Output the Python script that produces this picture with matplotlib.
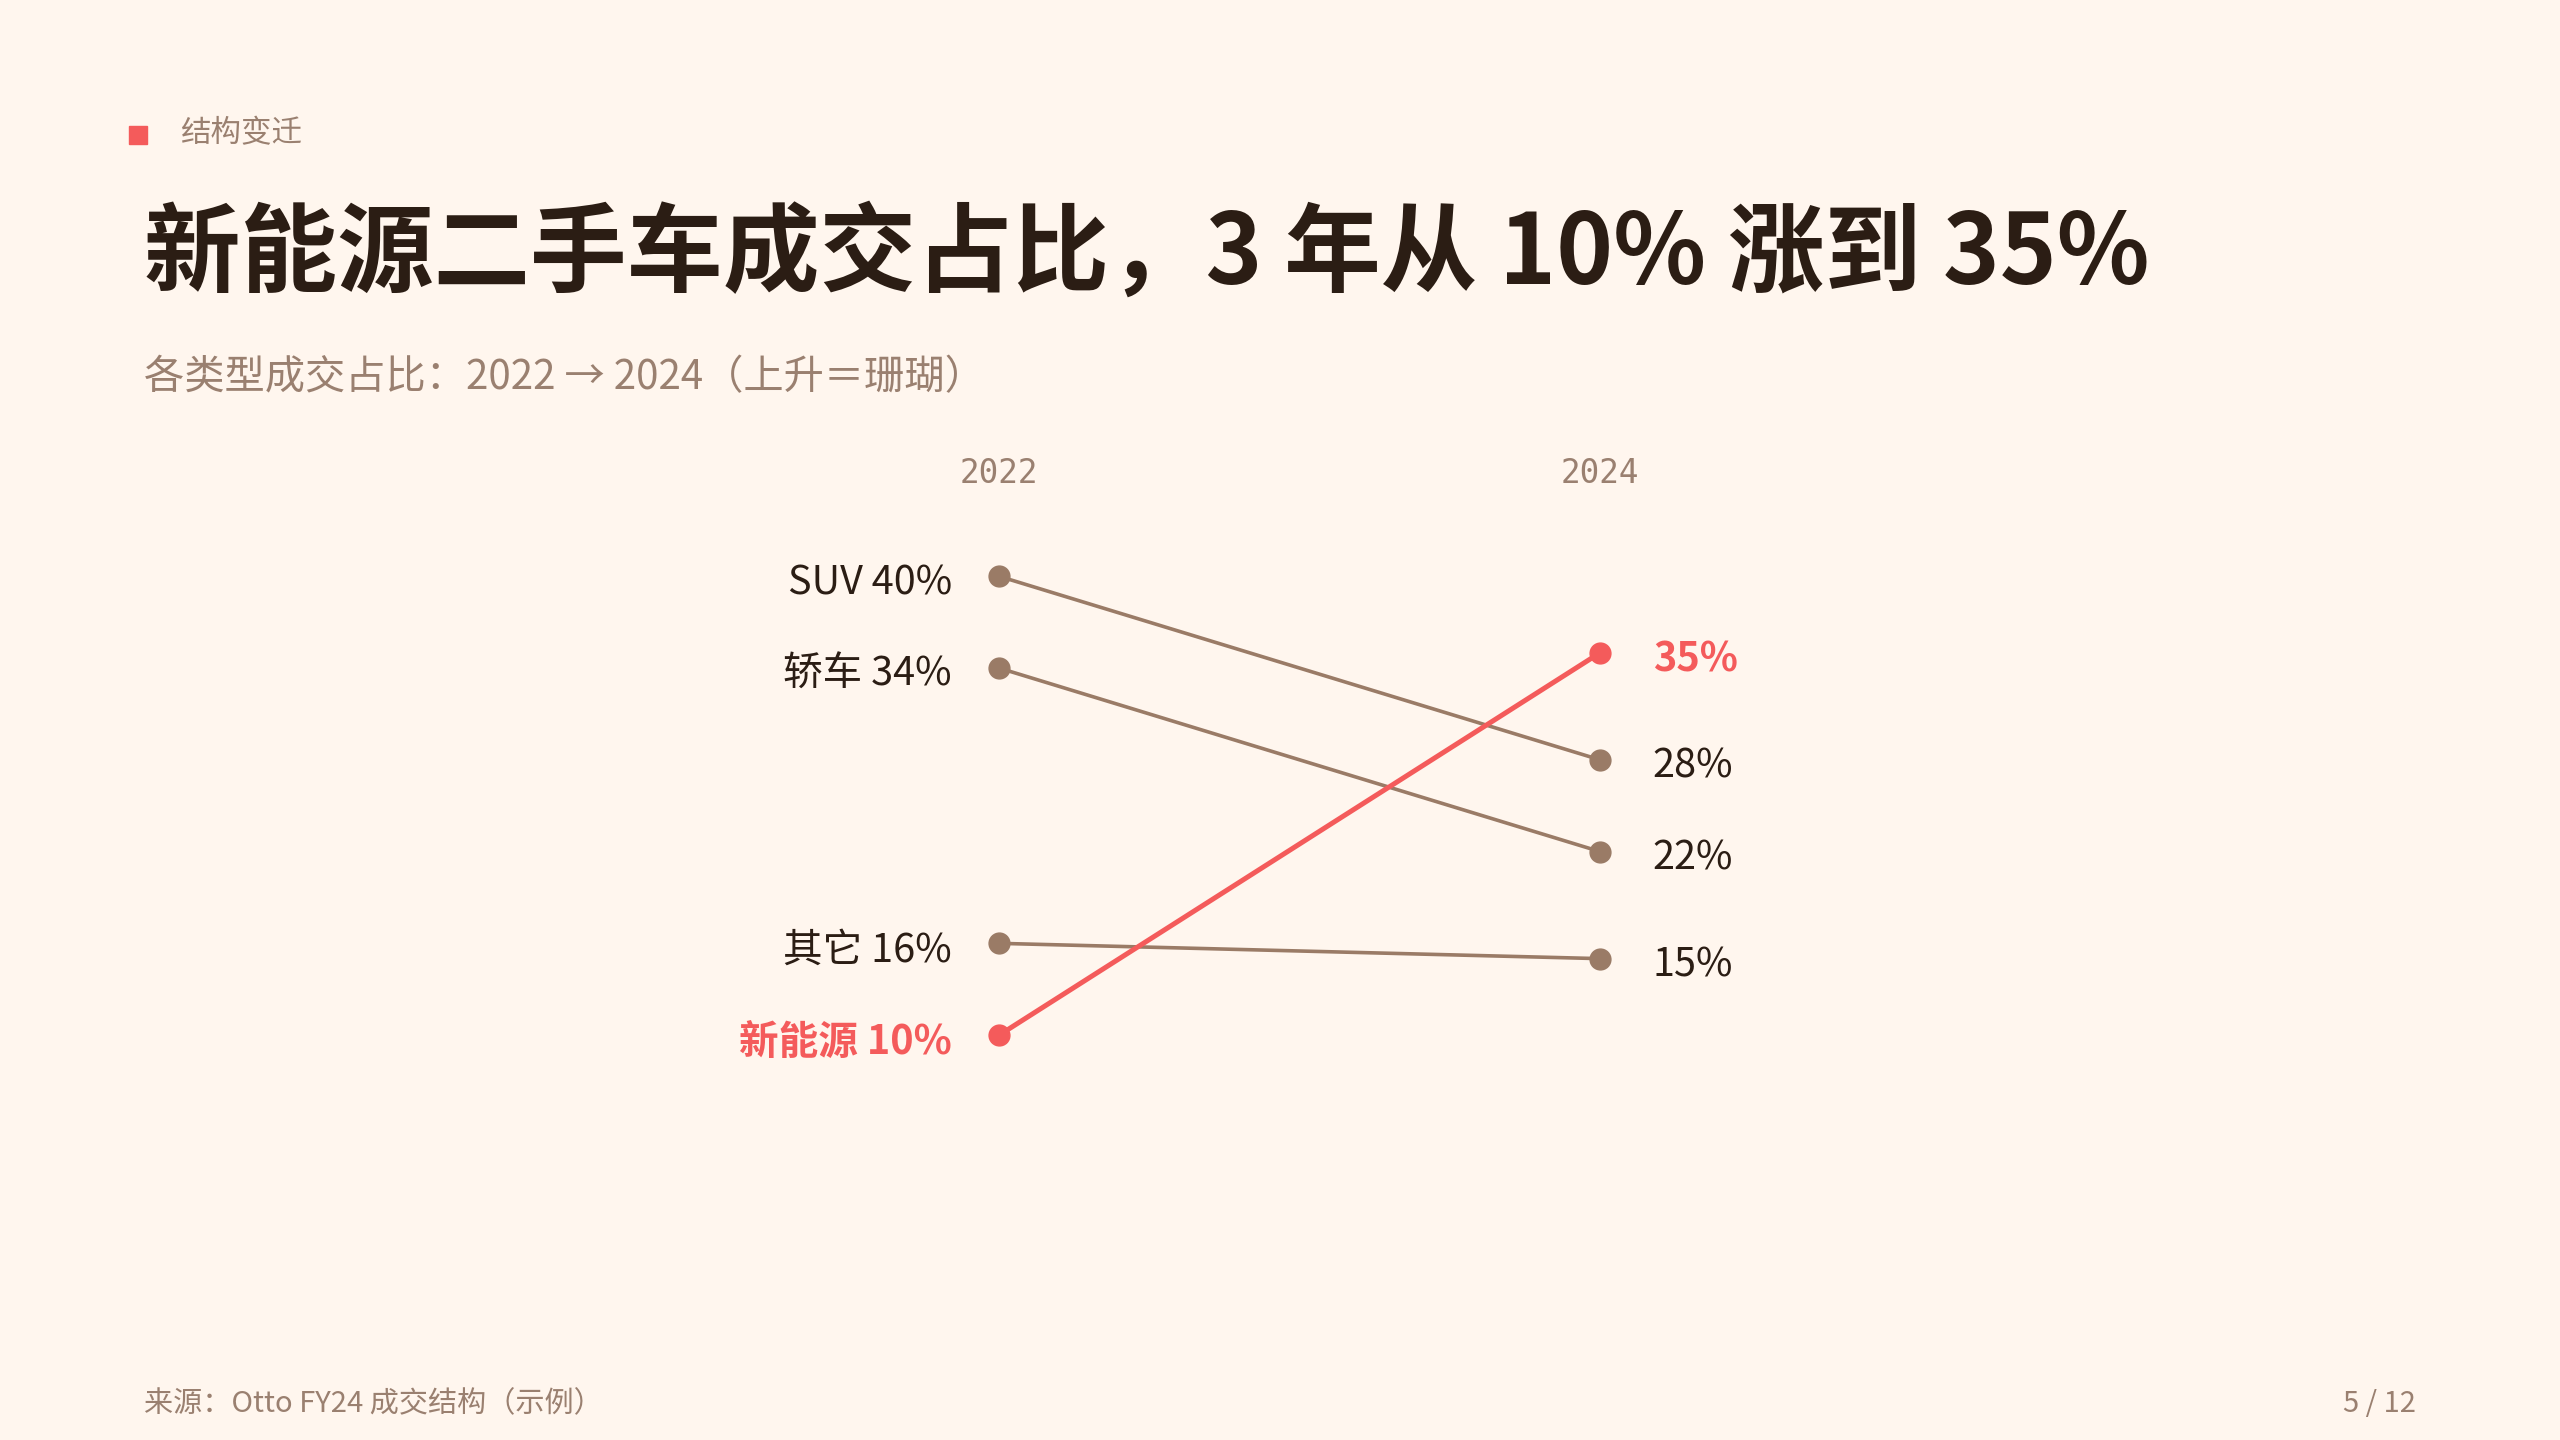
import matplotlib
matplotlib.use("Agg")
import matplotlib.pyplot as plt

plt.rcParams['font.family'] = ['Noto Sans CJK SC', 'DejaVu Sans']

categories = ["SUV", "轿车", "其它", "新能源"]
v2022 = [40, 34, 16, 10]
v2024 = [28, 22, 15, 35]
years = ["2022", "2024"]
highlight = "新能源"

BG = "#FFF6EE"
BROWN = "#9A7B66"
CORAL = "#F45B5B"
DARK = "#2B1D14"
MUTED = "#9A8070"

fig = plt.figure(figsize=(25.6, 14.4), dpi=100, facecolor=BG)
ax = fig.add_axes([612/1568, 1-634/882, (980-612)/1568, (634-353)/882])
ax.set_facecolor("none")
ax.set_xlim(0, 1)
ax.set_ylim(10, 40)
ax.axis("off")

for cat, a, b in zip(categories, v2022, v2024):
    hi = cat == highlight
    c = CORAL if hi else BROWN
    ax.plot([0, 1], [a, b], color=c, lw=3.6 if hi else 2.6, marker="o", ms=15,
            clip_on=False, zorder=3 if hi else 2, solid_capstyle="round")
    ax.annotate(f"{cat} {a}%", (0, a), xytext=(-34, -5), textcoords="offset points",
                ha="right", va="center", fontsize=28.5, color=c if hi else DARK,
                fontweight="bold" if hi else "normal")
    ax.annotate(f"{b}%", (1, b), xytext=(38, -5), textcoords="offset points",
                ha="left", va="center", fontsize=28.5, color=c if hi else DARK,
                fontweight="bold" if hi else "normal")

for i, y in enumerate(years):
    xf = (612 + i*(980-612)) / 1568
    fig.text(xf, 1-290/882, y, ha="center", va="center", fontsize=23.5,
             color=MUTED, family="DejaVu Sans Mono")

fig.patches.append(plt.Rectangle((79/1568, 1-88/882), 11/1568, 11/882,
                                 transform=fig.transFigure, color=CORAL))
fig.text(110/1568, 1-82/882, "结构变迁", fontsize=22, color=MUTED, va="center")
fig.text(88/1568, 1-156/882, "新能源二手车成交占比，3 年从 10% 涨到 35%",
         fontsize=69.5, fontweight="bold", color=DARK, va="center")
fig.text(88/1568, 1-231/882, "各类型成交占比：2022 → 2024（上升＝珊瑚）",
         fontsize=29, color=MUTED, va="center",
         family=['Noto Sans CJK SC', 'DejaVu Sans'])
fig.text(88/1568, 1-860/882, "来源：Otto FY24 成交结构（示例）", fontsize=21,
         color=MUTED, va="center")
fig.text(1480/1568, 1-860/882, "5 / 12", fontsize=21, color=MUTED,
         va="center", ha="right")

fig.savefig("out.png", dpi=100, facecolor=BG)
